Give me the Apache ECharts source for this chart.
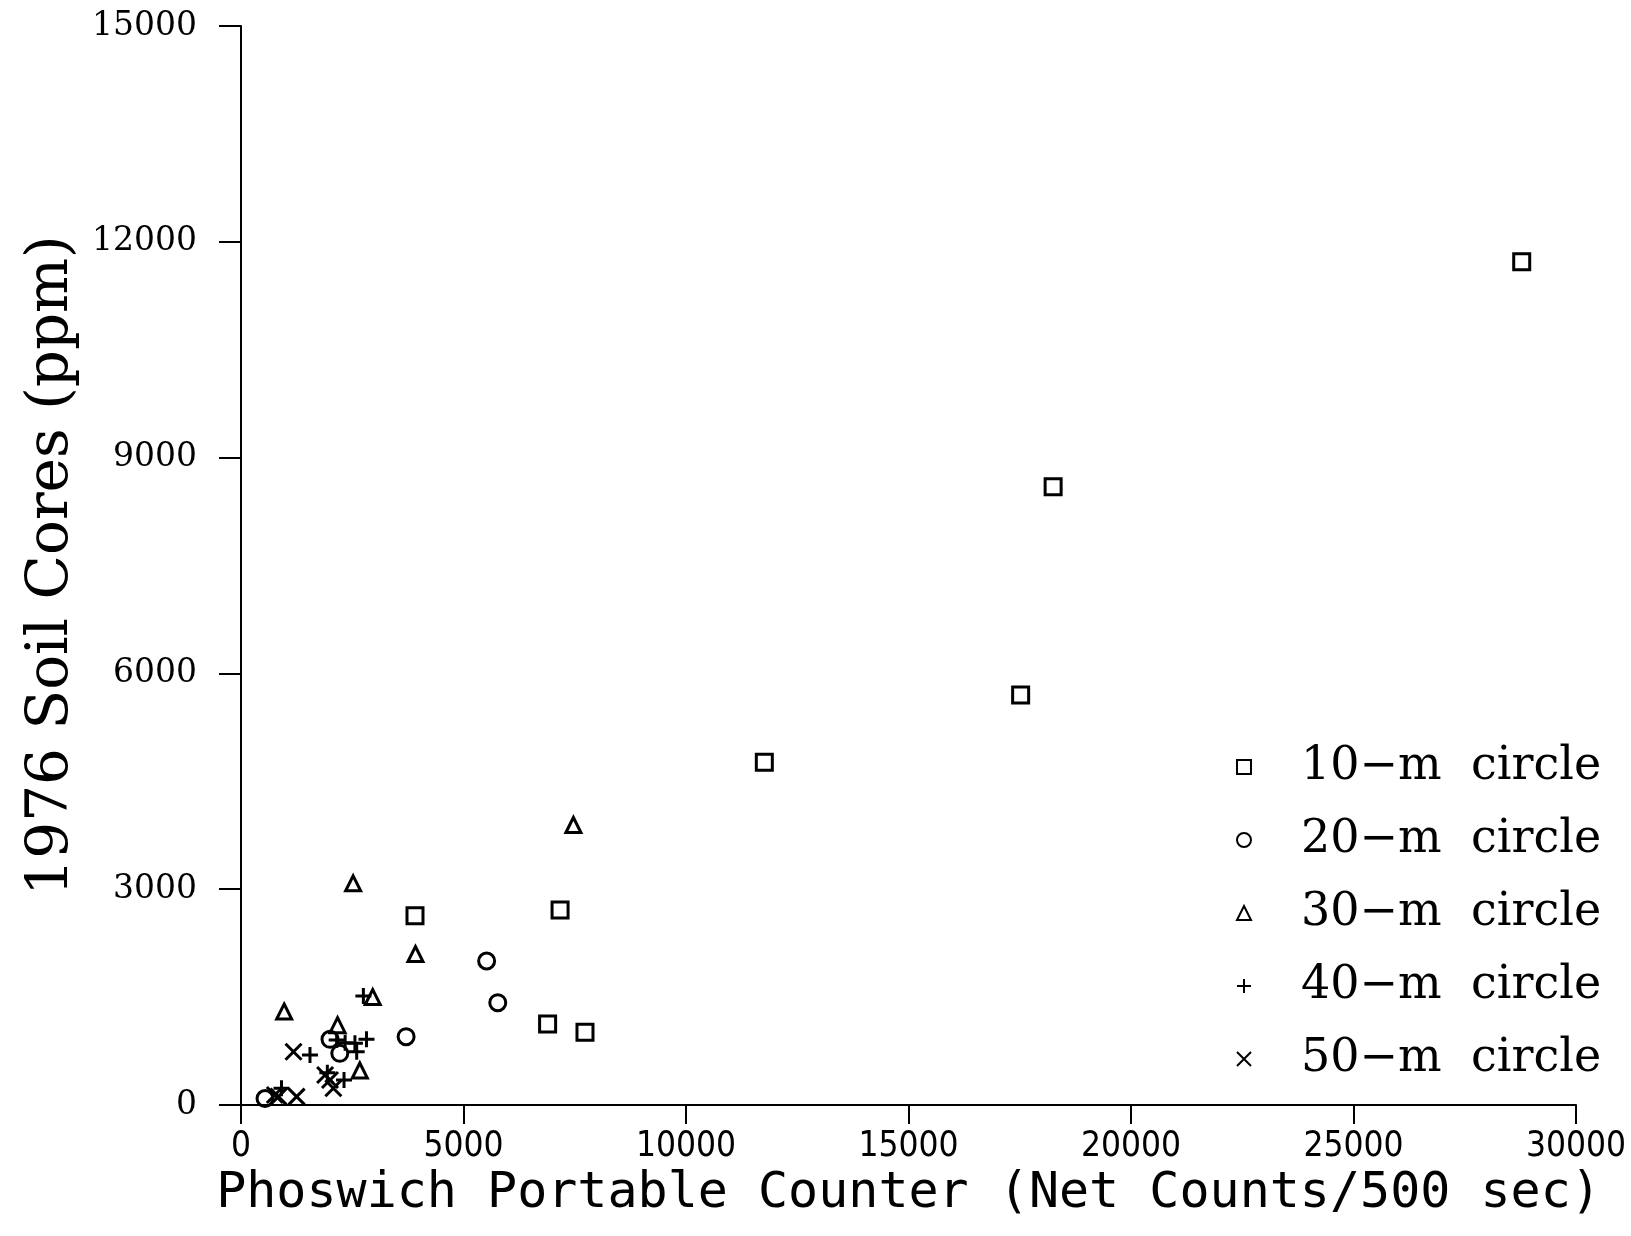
<!DOCTYPE html>
<html>
<head>
<meta charset="utf-8">
<script src="https://cdn.jsdelivr.net/npm/echarts@6/dist/echarts.min.js"></script>
<style>
html,body{margin:0;padding:0;background:#fff;}
#chart{width:1631px;height:1236px;}
</style>
</head>
<body>
<div id="chart"></div>
<script>
// Data: [Phoswich net counts/500 sec, soil core ppm]
const seriesNames = ['10\u2212m  circle', '20\u2212m  circle', '30\u2212m  circle', '40\u2212m  circle', '50\u2212m  circle'];
const circle10 = [[3910,2632],[7170,2711],[6890,1126],[7730,1010],[11760,4765],[17520,5700],[18250,8596],[28780,11724]];
const circle20 = [[5520,2002],[5770,1422],[3710,950],[2000,913],[2220,718],[540,90]];
const circle30 = [[2520,3082],[3920,2099],[7470,3893],[2960,1500],[970,1300],[2170,1110],[2670,480]];
const circle40 = [[2750,1515],[2150,904],[2340,866],[2560,857],[2820,913],[2600,741],[1550,695],[1940,449],[2315,348],[910,232]];
const circle50 = [[1180,741],[1890,417],[2000,348],[2075,232],[760,139],[840,116],[1250,116]];
const xTicks = [0,5000,10000,15000,20000,25000,30000];
const yTicks = [0,3000,6000,9000,12000,15000];

const symbols = ['rect','circle','triangle','path://M0,5L10,5M5,0L5,10','path://M0,0L10,10M10,0L0,10'];
const sizes = [16,16,15,16,16];
const datasets = [circle10, circle20, circle30, circle40, circle50];

const chart = echarts.init(document.getElementById('chart'), null, {renderer:'canvas'});
const axisBlack = {lineStyle:{color:'#000', width:2}};
chart.setOption({
  backgroundColor:'#fff',
  animation:false,
  grid:{left:241, right:55, top:26, bottom:131},
  xAxis:{
    type:'value', min:xTicks[0], max:xTicks[xTicks.length-1], interval:5000,
    splitLine:{show:false},
    axisLine:axisBlack,
    axisTick:{length:19, lineStyle:{color:'#000', width:2}},
    axisLabel:{margin:24, color:'#000', fontFamily:'"DejaVu Sans Condensed", "DejaVu Sans"', fontSize:35,
      formatter:v=>String(v)},
    name:'Phoswich Portable Counter (Net Counts/500 sec)',
    nameLocation:'middle', nameGap:46,
    nameTextStyle:{color:'#000', fontFamily:'"DejaVu Sans Mono"', fontSize:50}
  },
  yAxis:{
    type:'value', min:yTicks[0], max:yTicks[yTicks.length-1], interval:3000,
    splitLine:{show:false},
    axisLine:axisBlack,
    axisTick:{length:22, lineStyle:{color:'#000', width:2}},
    axisLabel:{margin:44, color:'#000', fontFamily:'"DejaVu Serif"', fontSize:33,
      formatter:v=>String(v)},
    name:'1976 Soil Cores (ppm)',
    nameLocation:'middle', nameGap:160, nameRotate:90,
    nameTextStyle:{color:'#000', fontFamily:'"DejaVu Serif"', fontSize:58}
  },
  legend:{
    orient:'vertical', left:1231, top:739,
    itemWidth:14, itemHeight:14, itemGap:27,
    data:seriesNames,
    itemStyle:{color:'rgba(0,0,0,0)', borderColor:'#000', borderWidth:2},
    textStyle:{color:'#000', fontFamily:'"DejaVu Serif"', fontSize:46, lineHeight:46, padding:[0,0,0,45]}
  },
  series: datasets.map((d,i)=>({
    type:'scatter', name:seriesNames[i], data:d,
    symbol:symbols[i], symbolSize:sizes[i],
    itemStyle:{color:'rgba(0,0,0,0)', borderColor:'#000', borderWidth:3, opacity:1},
    emphasis:{disabled:true}
  }))
});
</script>
</body>
</html>
